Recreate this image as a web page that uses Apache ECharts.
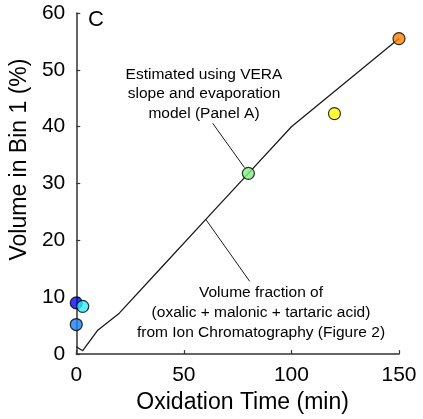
<!DOCTYPE html>
<html>
<head>
<meta charset="utf-8">
<script src="https://cdn.jsdelivr.net/npm/echarts@6/dist/echarts.min.js"></script>
<style>html,body{margin:0;padding:0;background:#fff}#c{width:423px;height:419px}</style>
</head>
<body>
<div id="c"></div>
<script>
const lineTime = [0, 3, 10, 20, 40, 60, 80, 100, 150];
const lineVolume = [1.3, 0.6, 4.2, 7.2, 15.4, 23.6, 31.8, 40.0, 55.5];
const pointTime = [0, 0, 3, 80, 120, 150];
const pointVolume = [9.0, 5.2, 8.4, 31.8, 42.3, 55.5];
const pointColors = ['#0808e8', '#1a80f2', '#30f0f4', '#80f080', '#ffff00', '#ff8000'];
const xTicks = [0, 50, 100, 150];
const yTicks = [0, 10, 20, 30, 40, 50, 60];
const leader1 = [[63.4, 40.6], [78.2, 32.8]];
const leader2 = [[60.2, 23.7], [80.6, 12.8]];

const FONT = '"Liberation Sans", Arial, sans-serif';
const chart = echarts.init(document.getElementById('c'));
const axisCommon = {
  axisLine: {show: true, lineStyle: {color: '#333', width: 1.5}},
  axisTick: {show: true, inside: true, length: 4, lineStyle: {color: '#333', width: 1.2}},
  splitLine: {show: false},
  axisLabel: {color: '#000', fontSize: 21, fontFamily: FONT, margin: 11},
  nameTextStyle: {color: '#000', fontSize: 23, fontFamily: FONT}
};
chart.setOption({
  animation: false,
  grid: {left: 75, right: 24, top: 13, bottom: 60},
  xAxis: Object.assign({}, axisCommon, {
    type: 'value', min: 0, max: 150, interval: 50,
    name: 'Oxidation Time (min)', nameLocation: 'middle', nameGap: 33,
    nameTextStyle: Object.assign({}, axisCommon.nameTextStyle, {padding: [0, 0, 0, 10]})
  }),
  yAxis: Object.assign({}, axisCommon, {
    type: 'value', min: 0, max: 60, interval: 10,
    name: 'Volume in Bin 1 (%)', nameLocation: 'middle', nameGap: 42,
    nameTextStyle: Object.assign({}, axisCommon.nameTextStyle, {padding: [0, 0, 0, 48]})
  }),
  series: [
    {
      type: 'line', data: lineTime.map((t, i) => [t, lineVolume[i]]),
      symbol: 'none', lineStyle: {color: '#1a1a1a', width: 1.3}, z: 2,
      markLine: {
        silent: true, symbol: 'none', label: {show: false},
        lineStyle: {color: '#1a1a1a', width: 1, type: 'solid'},
        data: [
          [{coord: leader1[0]}, {coord: leader1[1]}],
          [{coord: leader2[0]}, {coord: leader2[1]}]
        ]
      }
    },
    {
      type: 'scatter', symbolSize: 12, z: 3,
      data: pointTime.map((t, i) => ({value: [t, pointVolume[i]], itemStyle: {color: pointColors[i]}})),
      itemStyle: {borderColor: '#000', borderWidth: 1.2}
    }
  ],
  graphic: [
    {type: 'text', left: 88, top: 9, style: {text: 'C', font: '22px ' + FONT, fill: '#000'}},
    {type: 'text', x: 204, y: 94, style: {text: 'Estimated using VERA\nslope and evaporation\nmodel (Panel A)', font: '15.5px ' + FONT, lineHeight: 19.5, fill: '#000', align: 'center', verticalAlign: 'middle'}},
    {type: 'text', x: 261, y: 313, style: {text: 'Volume fraction of\n(oxalic + malonic + tartaric acid)\nfrom Ion Chromatography (Figure 2)', font: '15.5px ' + FONT, lineHeight: 20, fill: '#000', align: 'center', verticalAlign: 'middle'}}
  ]
});
</script>
</body>
</html>
